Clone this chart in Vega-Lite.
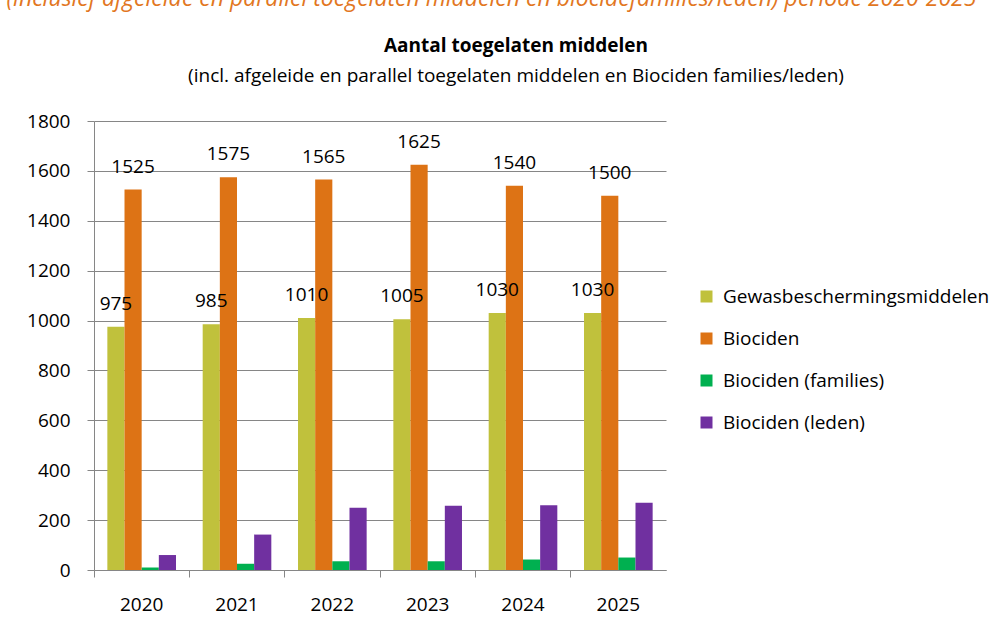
{
  "$schema": "https://vega.github.io/schema/vega-lite/v6.json",
  "padding": {"left": 6, "top": -12, "right": 5, "bottom": 12},
  "background": "white",
  "title": {
    "text": "(inclusief afgeleide en parallel toegelaten middelen en biocidefamilies/leden) periode 2020-2025",
    "font": "Open Sans",
    "fontSize": 23,
    "fontStyle": "italic",
    "fontWeight": "normal",
    "color": "#E2771F",
    "anchor": "start",
    "dx": -20,
    "offset": 26
  },
  "datasets": {
    "main": [
      {"year": "2020", "series": "Gewasbeschermingsmiddelen", "value": 975},
      {"year": "2020", "series": "Biociden", "value": 1525},
      {"year": "2020", "series": "Biociden (families)", "value": 10},
      {"year": "2020", "series": "Biociden (leden)", "value": 60},
      {"year": "2021", "series": "Gewasbeschermingsmiddelen", "value": 985},
      {"year": "2021", "series": "Biociden", "value": 1575},
      {"year": "2021", "series": "Biociden (families)", "value": 25},
      {"year": "2021", "series": "Biociden (leden)", "value": 142},
      {"year": "2022", "series": "Gewasbeschermingsmiddelen", "value": 1010},
      {"year": "2022", "series": "Biociden", "value": 1565},
      {"year": "2022", "series": "Biociden (families)", "value": 35},
      {"year": "2022", "series": "Biociden (leden)", "value": 250},
      {"year": "2023", "series": "Gewasbeschermingsmiddelen", "value": 1005},
      {"year": "2023", "series": "Biociden", "value": 1625},
      {"year": "2023", "series": "Biociden (families)", "value": 35},
      {"year": "2023", "series": "Biociden (leden)", "value": 258},
      {"year": "2024", "series": "Gewasbeschermingsmiddelen", "value": 1030},
      {"year": "2024", "series": "Biociden", "value": 1540},
      {"year": "2024", "series": "Biociden (families)", "value": 42},
      {"year": "2024", "series": "Biociden (leden)", "value": 260},
      {"year": "2025", "series": "Gewasbeschermingsmiddelen", "value": 1030},
      {"year": "2025", "series": "Biociden", "value": 1500},
      {"year": "2025", "series": "Biociden (families)", "value": 50},
      {"year": "2025", "series": "Biociden (leden)", "value": 270}
    ]
  },
  "vconcat": [
    {
      "width": 572,
      "height": 449,
      "data": {"name": "main"},
      "title": {
        "text": "Aantal toegelaten middelen",
        "subtitle": "(incl. afgeleide en parallel toegelaten middelen en Biociden families/leden)",
        "font": "Open Sans",
        "fontSize": 19,
        "fontWeight": "bold",
        "color": "#000000",
        "subtitleFont": "Open Sans",
        "subtitleFontSize": 19,
        "subtitleColor": "#000000",
        "subtitlePadding": 11,
        "anchor": "middle",
        "frame": "group",
        "dx": 136,
        "offset": 26
      },
      "encoding": {
        "x": {
          "field": "year",
          "type": "nominal",
          "scale": {"paddingInner": 0.28, "paddingOuter": 0.14},
          "axis": {
            "title": null,
            "labelAngle": 0,
            "labelFont": "Open Sans",
            "labelFontSize": 19,
            "labelColor": "#000000",
            "labelPadding": 18,
            "domainColor": "#868686",
            "tickColor": "#868686",
            "tickSize": 7,
            "bandPosition": -0.1944
          }
        },
        "xOffset": {
          "field": "series",
          "sort": ["Gewasbeschermingsmiddelen", "Biociden", "Biociden (families)", "Biociden (leden)"],
          "scale": {"paddingInner": 0, "paddingOuter": 0}
        },
        "y": {
          "field": "value",
          "type": "quantitative",
          "scale": {"domain": [0, 1800]},
          "axis": {
            "title": null,
            "values": [0, 200, 400, 600, 800, 1000, 1200, 1400, 1600, 1800],
            "format": "d",
            "labelFont": "Open Sans",
            "labelFontSize": 19,
            "labelColor": "#000000",
            "labelPadding": 17,
            "domainColor": "#868686",
            "tickColor": "#868686",
            "gridColor": "#868686",
            "tickSize": 7
          }
        }
      },
      "layer": [
        {
          "mark": {"type": "bar"},
          "encoding": {
            "color": {
              "field": "series",
              "type": "nominal",
              "sort": ["Gewasbeschermingsmiddelen", "Biociden", "Biociden (families)", "Biociden (leden)"],
              "scale": {
                "domain": ["Gewasbeschermingsmiddelen", "Biociden", "Biociden (families)", "Biociden (leden)"],
                "range": ["#C0C13C", "#DD7315", "#00B050", "#7030A0"]
              },
              "legend": {
                "title": null,
                "orient": "none",
                "legendX": 603,
                "legendY": 166,
                "symbolType": "square",
                "symbolSize": 144,
                "symbolStrokeWidth": 0,
                "labelFont": "Open Sans",
                "labelFontSize": 19,
                "labelColor": "#000000",
                "labelOffset": 7,
                "rowPadding": 22,
                "labelLimit": 400
              }
            }
          }
        },
        {
          "transform": [{"filter": {"field": "series", "oneOf": ["Gewasbeschermingsmiddelen", "Biociden"]}}],
          "mark": {"type": "text", "font": "Open Sans", "fontSize": 19, "color": "#000000", "baseline": "alphabetic", "dy": -17},
          "encoding": {
            "text": {"field": "value", "type": "quantitative"}
          }
        }
      ]
    }
  ],
  "config": {
    "view": {"stroke": null},
    "axis": {"gridWidth": 1, "domainWidth": 1, "tickWidth": 1}
  }
}
